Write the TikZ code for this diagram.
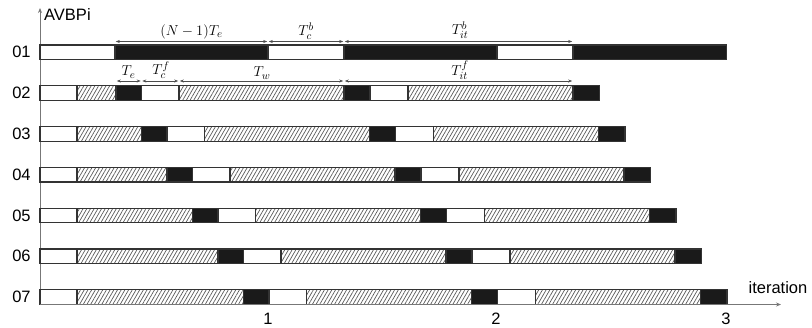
\documentclass[tikz,border=0pt]{standalone}
\usepackage{fontspec}
\setmainfont{Liberation Sans}
\usetikzlibrary{patterns.meta,arrows.meta}
\definecolor{edge}{HTML}{333333}
\definecolor{ink}{HTML}{1A1A1A}
\definecolor{axis}{HTML}{777777}
\newcommand\mkseg[4]{\path[#1] ({#2},{45+(#4-1)*40.8}) rectangle ({#3},{59.5+(#4-1)*40.8});}
\begin{document}
\begin{tikzpicture}[x=1pt,y=-1pt,
  wseg/.style={draw=edge,line width=1.2pt,fill=white},
  bseg/.style={draw=edge,line width=1.2pt,fill=ink},
  hseg/.style={draw=edge,line width=1.2pt,pattern={Lines[angle=60,distance=3.2pt,line width=0.7pt]},pattern color=black!65},
  lab/.style={font=\fontsize{16.5}{19}\selectfont,inner sep=0pt},
  mlab/.style={font=\fontsize{15.5}{18}\selectfont,inner sep=0pt},
  dim/.style={draw=black!70,line width=0.6pt,{Stealth[length=4pt,width=3pt]}-{Stealth[length=4pt,width=3pt]},shorten <=0.8pt,shorten >=0.8pt},
  ax/.style={draw=axis,line width=0.9pt,-{Stealth[length=5pt,width=4pt]}}]
\useasboundingbox (0,0) rectangle (812,327);
% axes
\coordinate (O) at (40,304.5);
\coordinate (Ytop) at (40,8);
\coordinate (Xend) at (781,304.5);
\draw[ax] (O) -- (Ytop);
% row 01
\mkseg{wseg}{40}{115}{1}
\mkseg{bseg}{115}{268}{1}
\mkseg{wseg}{268}{344}{1}
\mkseg{bseg}{344}{497}{1}
\mkseg{wseg}{497}{573}{1}
\mkseg{bseg}{573}{726.5}{1}
% rows 02..07
\foreach \k in {2,...,7}{
  \pgfmathsetmacro\d{(\k-2)*25.5}
  \mkseg{wseg}{40}{77}{\k}
  \mkseg{hseg}{77}{116+\d}{\k}
  \mkseg{bseg}{116+\d}{141.5+\d}{\k}
  \mkseg{wseg}{141.5+\d}{179+\d}{\k}
  \mkseg{hseg}{179+\d}{344+\d}{\k}
  \mkseg{bseg}{344+\d}{370+\d}{\k}
  \mkseg{wseg}{370+\d}{408+\d}{\k}
  \mkseg{hseg}{408+\d}{573+\d}{\k}
  \mkseg{bseg}{573+\d}{599.5+\d}{\k}
}
\draw[ax] (O) -- (Xend);
% row labels
\foreach \k in {1,...,7}{
  \node[lab] (r\k) at (21.5,{52.2+(\k-1)*40.8}) {0\k};
}
\node[lab,anchor=west] (ylab) at (44,15) {AVBPi};
\node[lab] (xlab) at (778,288) {iteration};
\node[lab] (t1) at (268,319) {1};
\node[lab] (t2) at (496,319) {2};
\node[lab] (t3) at (726,319) {3};
% dimension arrows row 01
\coordinate (a0) at (115,41.5);
\coordinate (a1) at (268,41.5);
\coordinate (a2) at (344,41.5);
\coordinate (a3) at (573,41.5);
\draw[dim] (a0) -- (a1);
\draw[dim] (a1) -- (a2);
\draw[dim] (a2) -- (a3);
\node[mlab] (l1) at (191.5,32) {$(N-1)T_e$};
\node[mlab] (l2) at (306,31) {$T_c^b$};
\node[mlab] (l3) at (460,30) {$T_{it}^b$};
% dimension arrows row 02
\coordinate (b0) at (116,81);
\coordinate (b1) at (141.5,81);
\coordinate (b2) at (179,81);
\coordinate (b3) at (344,81);
\coordinate (b4) at (573,81);
\draw[dim] (b0) -- (b1);
\draw[dim] (b1) -- (b2);
\draw[dim] (b2) -- (b3);
\draw[dim] (b3) -- (b4);
\node[mlab] (m1) at (128.5,72) {$T_e$};
\node[mlab] (m2) at (161,70) {$T_c^f$};
\node[mlab] (m3) at (262,73) {$T_w$};
\node[mlab] (m4) at (460,70) {$T_{it}^f$};
\end{tikzpicture}
\end{document}
